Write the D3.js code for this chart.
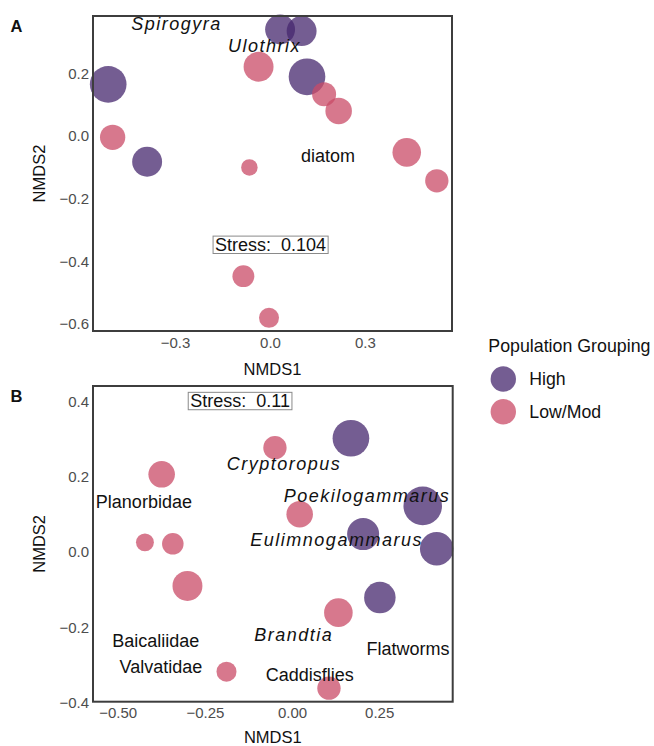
<!DOCTYPE html>
<html>
<head>
<meta charset="utf-8">
<script src="https://cdn.jsdelivr.net/npm/d3@7"></script>
<style>
  html, body { margin: 0; padding: 0; background: #fff; }
  svg { display: block; font-family: "Liberation Sans", Arial, Helvetica, sans-serif; }
</style>
</head>
<body>
<svg id="chart" width="654" height="746"></svg>
<script>
// ---- NMDS scores: algae (A) ----
const algaeX      = [-0.511, -0.497, -0.388, -0.065, -0.036, 0.032, 0.100, 0.117, 0.171, 0.217, 0.432, 0.527, -0.084, -0.003];
const algaeY      = [ 0.165, -0.004, -0.082, -0.100,  0.221, 0.340, 0.335, 0.189, 0.133, 0.080, -0.052, -0.143, -0.447, -0.580];
const algaeGroup  = ["High", "Low/Mod", "High", "Low/Mod", "Low/Mod", "High", "High", "High", "Low/Mod", "Low/Mod", "Low/Mod", "Low/Mod", "Low/Mod", "Low/Mod"];
const algaeWeight = [84, 40, 56, 17, 56, 56, 56, 84, 36, 44, 51, 34, 30, 25];

// ---- NMDS scores: invertebrates (B) ----
const invertX      = [-0.374, -0.049, 0.022, -0.422, -0.342, -0.300, 0.133, -0.188, 0.106, 0.169, 0.375, 0.204, 0.415, 0.252];
const invertY      = [ 0.207,  0.278, 0.101,  0.026,  0.022, -0.090, -0.161, -0.318, -0.362, 0.303, 0.123, 0.048, 0.009, -0.121];
const invertGroup  = ["Low/Mod", "Low/Mod", "Low/Mod", "Low/Mod", "Low/Mod", "Low/Mod", "Low/Mod", "Low/Mod", "Low/Mod", "High", "High", "High", "High", "High"];
const invertWeight = [44, 34, 44, 20, 29, 56, 51, 25, 34, 84, 93, 64, 70, 62];

// ---- taxon labels (positions in NMDS space) ----
const algaeLabels   = ["Spirogyra", "Ulothrix", "diatom"];
const algaeLabelX   = [-0.295, -0.017, 0.183];
const algaeLabelY   = [ 0.358,  0.289, -0.062];
const algaeItalic   = [true, true, false];

const invertLabels  = ["Cryptoropus", "Planorbidae", "Poekilogammarus", "Eulimnogammarus", "Brandtia", "Baicaliidae", "Valvatidae", "Flatworms", "Caddisflies"];
const invertLabelX  = [-0.023, -0.425, 0.215, 0.128, 0.005, -0.391, -0.376, 0.333, 0.051];
const invertLabelY  = [ 0.235,  0.133, 0.151, 0.034, -0.221, -0.236, -0.304, -0.258, -0.326];
const invertItalic  = [true, false, true, true, true, false, false, false, false];

// ---- stress values ----
const stressValues = [0.104, 0.11];
const stressX      = [0.002, -0.149];
const stressY      = [-0.347, 0.402];

// ---- axis ticks ----
const algaeTicksX  = [-0.3, 0.0, 0.3];
const algaeTicksY  = [-0.6, -0.4, -0.2, 0.0, 0.2];
const invertTicksX = [-0.5, -0.25, 0.0, 0.25];
const invertTicksY = [-0.4, -0.2, 0.0, 0.2, 0.4];

const groups = ["High", "Low/Mod"];

// ---------------------------------------------------------------
const svg = d3.select("#chart");
const color = d3.scaleOrdinal().domain(groups).range(["#46276e", "#ca4b67"]);
const radius = d3.scaleSqrt().domain([0, 100]).range([0, 20]);
const FILL_OPACITY = 0.75;

function zipPoints(xs, ys, gs, ws) {
  return xs.map((x, i) => ({ x, y: ys[i], group: gs[i], w: ws[i] }));
}
function zipLabels(ts, xs, ys, it) {
  return ts.map((t, i) => ({ text: t, x: xs[i], y: ys[i], italic: it[i] }));
}

function drawPanel(cfg) {
  const { letter, box, xDomain, yDomain, xTicks, yTicks, xFmt, yFmt, points, labels, stress } = cfg;
  const x = d3.scaleLinear().domain(xDomain).range([box.left, box.right]);
  const y = d3.scaleLinear().domain(yDomain).range([box.bottom, box.top]);
  const g = svg.append("g");

  // axes (labels only, no tick marks)
  const ax = g.append("g")
    .attr("transform", `translate(0,${box.bottom})`)
    .call(d3.axisBottom(x).tickValues(xTicks).tickFormat(d3.format(xFmt)).tickSize(0).tickPadding(6));
  const ay = g.append("g")
    .attr("transform", `translate(${box.left},0)`)
    .call(d3.axisLeft(y).tickValues(yTicks).tickFormat(d3.format(yFmt)).tickSize(0).tickPadding(4));
  [ax, ay].forEach(a => {
    a.select(".domain").remove();
    a.selectAll("text").attr("font-size", 15).attr("fill", "#4d4d4d")
      .attr("font-family", "'Liberation Sans', Arial, sans-serif");
  });

  // bubbles
  g.append("g").selectAll("circle")
    .data(points)
    .join("circle")
    .attr("cx", d => x(d.x))
    .attr("cy", d => y(d.y))
    .attr("r", d => radius(d.w))
    .attr("fill", d => color(d.group))
    .attr("fill-opacity", FILL_OPACITY);

  // taxon labels
  g.append("g").selectAll("text")
    .data(labels)
    .join("text")
    .attr("x", d => x(d.x))
    .attr("y", d => y(d.y))
    .attr("dy", "0.35em")
    .attr("text-anchor", "middle")
    .attr("font-size", 18)
    .attr("font-style", d => d.italic ? "italic" : "normal")
    .attr("letter-spacing", d => d.italic ? "1.5px" : "0px")
    .attr("fill", "#111")
    .text(d => d.text);

  // stress annotation
  const sg = g.append("g");
  const st = sg.append("text")
    .attr("x", x(stress.x))
    .attr("y", y(stress.y))
    .attr("dy", "0.35em")
    .attr("text-anchor", "middle")
    .attr("font-size", 18)
    .attr("fill", "#111")
    .attr("xml:space", "preserve")
    .text("Stress:  " + stress.value);
  const bb = st.node().getBBox();
  sg.insert("rect", "text")
    .attr("x", bb.x - 2)
    .attr("y", y(stress.y) - 8.7)
    .attr("width", bb.width + 4)
    .attr("height", 17.4)
    .attr("fill", "#fff")
    .attr("stroke", "#8a8a8a")
    .attr("stroke-width", 1);

  // panel frame
  g.append("rect")
    .attr("x", box.left).attr("y", box.top)
    .attr("width", box.right - box.left).attr("height", box.bottom - box.top)
    .attr("fill", "none").attr("stroke", "#3d3d3d").attr("stroke-width", 2);

  // axis titles
  g.append("text")
    .attr("x", (box.left + box.right) / 2)
    .attr("y", box.bottom + cfg.xTitleOffset)
    .attr("text-anchor", "middle")
    .attr("font-size", 16.5).attr("fill", "#111")
    .text("NMDS1");
  g.append("text")
    .attr("transform", `translate(45,${(box.top + box.bottom) / 2}) rotate(-90)`)
    .attr("text-anchor", "middle")
    .attr("font-size", 16.5).attr("fill", "#111")
    .text("NMDS2");

  // panel letter
  g.append("text")
    .attr("x", 10.5).attr("y", cfg.letterY)
    .attr("font-size", 16.5).attr("font-weight", "bold").attr("fill", "#111")
    .text(letter);
}

drawPanel({
  letter: "A",
  letterY: 31.7,
  box: { left: 93, right: 452, top: 16, bottom: 331 },
  xDomain: [-0.559, 0.575],
  yDomain: [-0.622, 0.383],
  xTicks: algaeTicksX, yTicks: algaeTicksY,
  xFmt: ".1f", yFmt: ".1f",
  points: zipPoints(algaeX, algaeY, algaeGroup, algaeWeight),
  labels: zipLabels(algaeLabels, algaeLabelX, algaeLabelY, algaeItalic),
  stress: { value: stressValues[0], x: stressX[0], y: stressY[0] },
  xTitleOffset: 44
});

drawPanel({
  letter: "B",
  letterY: 401.7,
  box: { left: 93, right: 452.7, top: 386, bottom: 701.7 },
  xDomain: [-0.571, 0.461],
  yDomain: [-0.398, 0.442],
  xTicks: invertTicksX, yTicks: invertTicksY,
  xFmt: ".2f", yFmt: ".1f",
  points: zipPoints(invertX, invertY, invertGroup, invertWeight),
  labels: zipLabels(invertLabels, invertLabelX, invertLabelY, invertItalic),
  stress: { value: stressValues[1], x: stressX[1], y: stressY[1] },
  xTitleOffset: 41.5
});

// ---- legend ----
const legend = svg.append("g");
legend.append("text")
  .attr("x", 488.3).attr("y", 351.7)
  .attr("font-size", 17.8).attr("fill", "#111")
  .text("Population Grouping");
const keys = legend.selectAll("g.key")
  .data(groups)
  .join("g")
  .attr("class", "key")
  .attr("transform", (d, i) => `translate(503.3,${379 + i * 32.7})`);
keys.append("circle")
  .attr("r", 12.7)
  .attr("fill", d => color(d))
  .attr("fill-opacity", FILL_OPACITY);
keys.append("text")
  .attr("x", 26)
  .attr("dy", "0.35em")
  .attr("font-size", 17.7).attr("fill", "#111")
  .text(d => d);
</script>
</body>
</html>
